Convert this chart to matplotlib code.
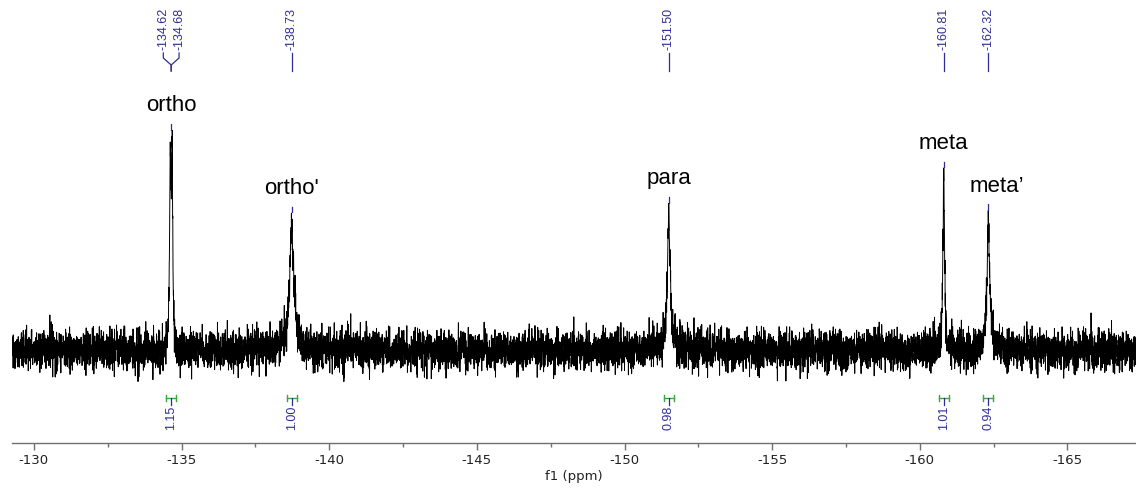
import numpy as np
import matplotlib
matplotlib.use("Agg")
import matplotlib.pyplot as plt
import matplotlib.transforms as mtransforms
from matplotlib.ticker import MultipleLocator, FuncFormatter

# Peak list (ppm), peak heights (relative, tallest = 100) and line widths (FWHM, ppm)
peak_shifts = [-134.62, -134.68, -138.73, -151.50, -160.81, -162.32]
peak_heights = [83, 83, 55, 54, 78, 54]
peak_widths = [0.05, 0.05, 0.17, 0.12, 0.06, 0.12]

# Group labels drawn above the multiplets
group_names = ["ortho", "ortho'", "para", "meta", "meta\u2019"]
group_shifts = [-134.65, -138.73, -151.50, -160.81, -162.32]
group_label_dx = [0, 0, 0, 0, 8]

# Integrals
integral_centers = [-134.65, -138.73, -151.50, -160.81, -162.32]
integral_values = ["1.15", "1.00", "0.98", "1.01", "0.94"]

# Peak-pick labels
pick_values = [-134.62, -134.68, -138.73, -151.50, -160.81, -162.32]

# ppm axis
x_major = 5.0
x_minor = 2.5
x_limits = (-129.26, -167.32)

BLUE = "#2e2e96"
GREEN = "#3aa83a"

# Build the spectrum trace: Lorentzian lines on a noisy baseline
ppm = np.linspace(x_limits[0], x_limits[1], 9000)
signal = np.zeros_like(ppm)
for x0, h, w in zip(peak_shifts, peak_heights, peak_widths):
    signal += h / (1.0 + ((ppm - x0) / (w / 2.0)) ** 2)
rng = np.random.default_rng(11)
baseline_noise = rng.normal(0.0, 4.3, ppm.size)
trace = signal + baseline_noise

fig = plt.figure(figsize=(11.36, 4.90), dpi=100)
ax = fig.add_axes([12 / 1136, 47 / 490, 1 - 12 / 1136, 443 / 490])
ax.plot(ppm, trace, color="black", lw=0.7)

ax.set_xlim(*x_limits)
ax.set_ylim(-41.3, 155.6)
ax.set_yticks([])
for s in ("left", "right", "top"):
    ax.spines[s].set_visible(False)
ax.spines["bottom"].set_color("#707070")
ax.spines["bottom"].set_linewidth(1.0)
ax.xaxis.set_major_locator(MultipleLocator(x_major))
ax.xaxis.set_minor_locator(MultipleLocator(x_minor))
ax.tick_params(axis="x", which="major", length=5, width=1, color="#707070",
               labelsize=9.5, labelcolor="#222222", pad=3)
ax.tick_params(axis="x", which="minor", length=3, width=1, color="#707070")
ax.xaxis.set_major_formatter(FuncFormatter(lambda v, p: f"{v:.0f}".replace("\u2212", "-")))
ax.set_xlabel("f1 (ppm)", fontsize=9.5, color="#222222", labelpad=2)

# Group labels above the peaks, with a short blue mark on each peak top
for name, x0, dx in zip(group_names, group_shifts, group_label_dx):
    near = np.abs(ppm - x0) < 0.08
    top = trace[near].max()
    ax.annotate(name, xy=(x0, top), xytext=(dx, 14), textcoords="offset pixels",
                ha="center", va="bottom", fontsize=16, family="Liberation Sans",
                color="black")
    ax.plot([x0, x0], [top + 0.3, top + 2.8], color=BLUE, lw=0.9)

# Peak-pick labels along the top edge
trans = mtransforms.blended_transform_factory(ax.transData, ax.transAxes)
px = 29.54  # pixels per ppm


def frac(ypix):
    return (443 - ypix) / 443


pick_offsets = [-7, 7, 0, 0, 0, 0]
for val, off in zip(pick_values, pick_offsets):
    xt = val - off / px
    ax.text(xt, frac(50), f"-{abs(val):.2f}", rotation=90, transform=trans,
            ha="center", va="bottom", fontsize=9, family="Liberation Sans", color=BLUE)
    if off == 0:
        ax.plot([val, val], [frac(53), frac(71)], transform=trans, color=BLUE, lw=0.9,
                clip_on=False)
    else:
        xm = -134.65
        ax.plot([xt, xt, xm, xm], [frac(53), frac(58), frac(65), frac(71)],
                transform=trans, color=BLUE, lw=0.9, clip_on=False)

# Integral marks below the baseline
half = 5 / px
for xc, lab in zip(integral_centers, integral_values):
    y0 = frac(398)
    ax.plot([xc - half, xc + half], [y0, y0], transform=trans, color=GREEN, lw=1.0)
    for xe in (xc - half, xc + half):
        ax.plot([xe, xe], [frac(395), frac(401)], transform=trans, color=GREEN, lw=1.0)
    ax.plot([xc, xc], [y0, frac(405)], transform=trans, color=BLUE, lw=0.9)
    ax.text(xc, frac(406), lab, rotation=90, transform=trans, ha="center", va="top",
            fontsize=9, family="Liberation Sans", color=BLUE)

fig.savefig("out.png", dpi=100, facecolor="white")
